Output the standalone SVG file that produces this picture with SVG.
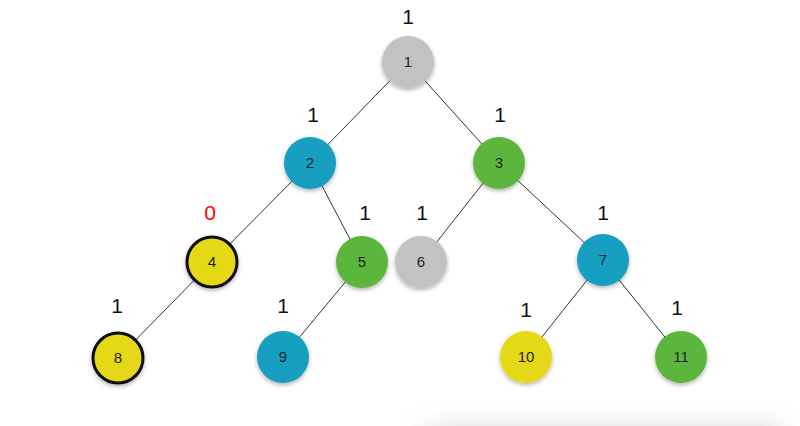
<svg xmlns="http://www.w3.org/2000/svg" width="800" height="426" viewBox="0 0 800 426">
<defs>
<style>
.edge{stroke:#333;stroke-width:1;fill:none}
.n{stroke:none}
.gray{fill:#c2c2c2}
.blue{fill:#169fc0}
.green{fill:#5bb63d}
.yellow{fill:#e5d813}
.bold{stroke:#111;stroke-width:3}
.num{font-family:"Liberation Sans",Arial,sans-serif;font-size:15px;fill:#222;text-anchor:middle}
.lbl{font-family:"Liberation Sans",Arial,sans-serif;font-size:21px;fill:#111;text-anchor:middle}
.red{fill:#f00}
</style>
<filter id="sh" x="-30%" y="-30%" width="160%" height="170%">
<feDropShadow dx="0" dy="2" stdDeviation="2" flood-color="#000" flood-opacity="0.3"/>
</filter>
<linearGradient id="bot" x1="0" y1="0" x2="0" y2="1">
<stop offset="0" stop-color="#fff" stop-opacity="0"/>
<stop offset="1" stop-color="#ececec"/>
</linearGradient>
<linearGradient id="botx" x1="0" y1="0" x2="1" y2="0">
<stop offset="0" stop-color="#fff" stop-opacity="0"/>
<stop offset="0.15" stop-color="#fff" stop-opacity="1"/>
<stop offset="0.9" stop-color="#fff" stop-opacity="1"/>
<stop offset="1" stop-color="#fff" stop-opacity="0"/>
</linearGradient>
<mask id="bm"><rect x="400" y="400" width="400" height="26" fill="url(#botx)"/></mask>
</defs>
<rect width="800" height="426" fill="#fff"/>
<rect x="400" y="400" width="400" height="26" fill="url(#bot)" mask="url(#bm)"/>
<g id="connectors">
<line class="edge" x1="408" y1="62" x2="310" y2="163"/>
<line class="edge" x1="408" y1="62" x2="499" y2="163"/>
<line class="edge" x1="310" y1="163" x2="212" y2="262"/>
<line class="edge" x1="310" y1="163" x2="362" y2="262"/>
<line class="edge" x1="499" y1="163" x2="421" y2="262"/>
<line class="edge" x1="499" y1="163" x2="603" y2="260"/>
<line class="edge" x1="212" y1="262" x2="118" y2="358"/>
<line class="edge" x1="362" y1="262" x2="283" y2="357"/>
<line class="edge" x1="603" y1="260" x2="526" y2="357"/>
<line class="edge" x1="603" y1="260" x2="681" y2="357"/>
</g>
<g id="node1"><circle class="n gray" cx="408" cy="62" r="26" filter="url(#sh)"/><text class="num" x="408" y="67">1</text><text class="lbl" x="408" y="24">1</text></g>
<g id="node2"><circle class="n blue" cx="310" cy="163" r="26" filter="url(#sh)"/><text class="num" x="310" y="168">2</text><text class="lbl" x="313" y="122">1</text></g>
<g id="node3"><circle class="n green" cx="499" cy="163" r="26" filter="url(#sh)"/><text class="num" x="499" y="168">3</text><text class="lbl" x="500" y="122">1</text></g>
<g id="node4"><circle class="yellow bold" cx="212" cy="262" r="25" filter="url(#sh)"/><text class="num" x="212" y="267">4</text><text class="lbl red" x="210" y="220">0</text></g>
<g id="node5"><circle class="n green" cx="362" cy="262" r="26" filter="url(#sh)"/><text class="num" x="362" y="267">5</text><text class="lbl" x="365" y="220">1</text></g>
<g id="node6"><circle class="n gray" cx="421" cy="262" r="26" filter="url(#sh)"/><text class="num" x="421" y="267">6</text><text class="lbl" x="422" y="220">1</text></g>
<g id="node7"><circle class="n blue" cx="603" cy="260" r="26" filter="url(#sh)"/><text class="num" x="603" y="265">7</text><text class="lbl" x="603" y="220">1</text></g>
<g id="node8"><circle class="yellow bold" cx="118" cy="358" r="25" filter="url(#sh)"/><text class="num" x="118" y="363">8</text><text class="lbl" x="117" y="313">1</text></g>
<g id="node9"><circle class="n blue" cx="283" cy="357" r="26" filter="url(#sh)"/><text class="num" x="283" y="362">9</text><text class="lbl" x="283" y="313">1</text></g>
<g id="node10"><circle class="n yellow" cx="526" cy="357" r="26" filter="url(#sh)"/><text class="num" x="526" y="362">10</text><text class="lbl" x="526" y="317">1</text></g>
<g id="node11"><circle class="n green" cx="681" cy="357" r="26" filter="url(#sh)"/><text class="num" x="681" y="362">11</text><text class="lbl" x="677" y="315">1</text></g>
</svg>
